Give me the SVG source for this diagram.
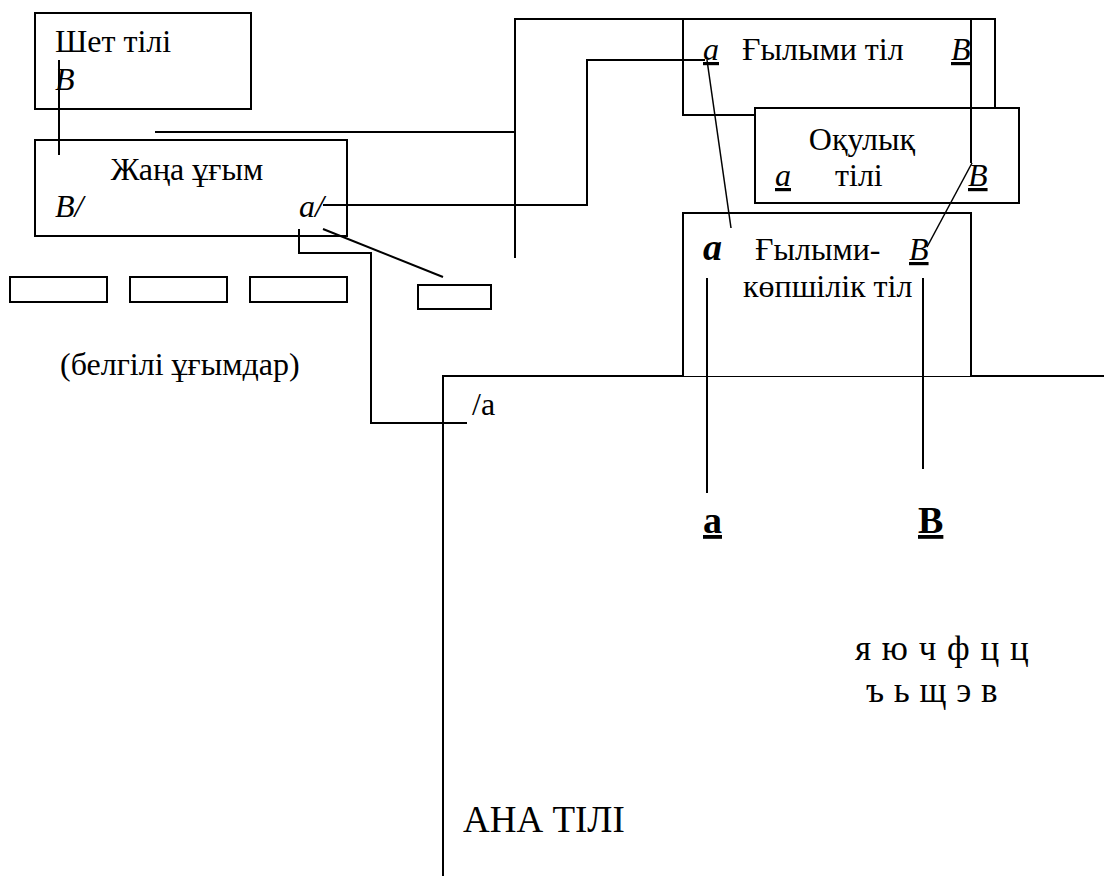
<svg xmlns="http://www.w3.org/2000/svg" width="1104" height="876" viewBox="0 0 1104 876">
<style>
text{font-family:"Liberation Serif","Times New Roman",serif;font-size:32px;fill:#000}
.i{font-style:italic}
.u{text-decoration:underline}
.b{font-weight:bold}
.big{font-size:38px}
.let{font-size:35px}
.mother{font-size:37px}
.box{fill:#fff;stroke:#000;stroke-width:2}
.ln{fill:none;stroke:#000;stroke-width:2}
.thin{fill:none;stroke:#000;stroke-width:1.5}
</style>
<rect width="1104" height="876" fill="#fff"/>
<g id="main-frame">
<path class="ln" d="M443,876 V376 H1104"/>
</g>
<g id="shet-tili">
<rect class="box" x="35" y="13" width="216" height="96"/>
<text x="55" y="52">Шет тілі</text>
<text class="i" x="55" y="90">B</text>
</g>
<g id="zhana-ugym">
<rect class="box" x="35" y="140" width="312" height="96"/>
<text x="187" y="180" text-anchor="middle">Жаңа ұғым</text>
<text class="i" x="55" y="217">B/</text>
<text class="i" x="299" y="217">a/</text>
</g>
<g id="gylymi-til">
<rect class="box" x="683" y="19" width="312" height="96"/>
<text class="i u" x="703" y="60">a</text>
<text x="742" y="60">Ғылыми тіл</text>
<text class="i u" x="951" y="60">B</text>
</g>
<g id="okulyk-tili">
<rect class="box" x="755" y="108" width="264" height="95"/>
<text x="862" y="150" text-anchor="middle">Оқулық</text>
<text x="835" y="186">тілі</text>
<text class="i u" x="775" y="186">a</text>
<text class="i u" x="968" y="186">B</text>
</g>
<g id="gylymi-kopshilik">
<path class="box" d="M683,376 V213 H971 V376"/>
<text class="b i big" x="703" y="260">a</text>
<text x="755" y="260">Ғылыми-</text>
<text class="i u" x="909" y="260">B</text>
<text x="743" y="297">көпшілік тіл</text>
</g>
<g id="known-concepts">
<rect class="box" x="10" y="277" width="97" height="25"/>
<rect class="box" x="130" y="277" width="97" height="25"/>
<rect class="box" x="250" y="277" width="97" height="25"/>
<rect class="box" x="418" y="285" width="73" height="24"/>
<text x="60" y="375">(белгілі ұғымдар)</text>
</g>
<g id="connectors">
<path class="ln" d="M59,60 V155"/>
<path class="ln" d="M155,132 H515"/>
<path class="ln" d="M515,258 V19 H683"/>
<path class="ln" d="M323,205 H587 V60 H705"/>
<path class="ln" d="M971,19 V163"/>
<path class="thin" d="M707,60 L731,228"/>
<path class="thin" d="M972,163 L927,247"/>
<path class="ln" d="M707,278 V493"/>
<path class="ln" d="M923,278 V469"/>
<path class="ln" d="M323,229 L443,277"/>
<path class="ln" d="M299,229 V253 H371 V423 H467"/>
</g>
<g id="labels">
<text x="472" y="415">/a</text>
<text class="b u big" x="703" y="533">a</text>
<text class="b u big" x="918" y="533">B</text>
<text class="let" x="855" y="660" word-spacing="2">я ю ч ф ц ц</text>
<text class="let" x="866" y="702" word-spacing="1">ъ ь щ э в</text>
<text class="mother" x="463" y="832">АНА ТІЛІ</text>
</g>
</svg>
